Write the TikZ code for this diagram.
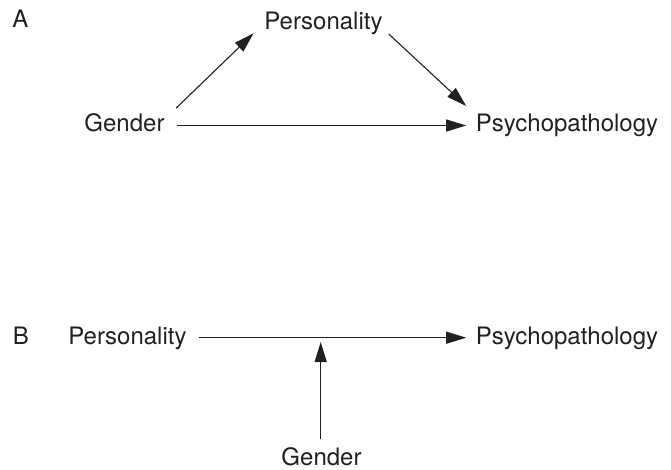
\documentclass[tikz,border=0pt]{standalone}
\usepackage{fontspec}
\setmainfont{TeX Gyre Heros}
\usetikzlibrary{arrows.meta}
\definecolor{ink}{HTML}{231F20}
\begin{document}
\begin{tikzpicture}[x=1pt,y=-1pt,
  lbl/.style={inner sep=0pt,anchor=base,text=ink,font=\fontsize{24}{28}\selectfont},
  arr/.style={draw=ink,line width=1.1pt,-{Triangle[length=20pt,width=12pt]}}]
\useasboundingbox (0,0) rectangle (671,469);

% Panel A: mediation
\node[lbl] (labA) at (20.5,27) {A};
\node[lbl] (perA) at (323.5,29.5) {Personality};
\node[lbl] (genA) at (124.5,131.5) {Gender};
\node[lbl] (psyA) at (567,131.5) {Psychopathology};

\draw[arr] ([shift={(12pt,6pt)}]genA.base east) -- ([shift={(-9.5pt,6pt)}]psyA.base west);
\draw[arr] ([shift={(11.5pt,23.5pt)}]genA.base east) -- ([shift={(-10.7pt,-3.8pt)}]perA.base west);
\draw[arr] ([shift={(6pt,-4.5pt)}]perA.base east) -- ([shift={(-9.5pt,25.5pt)}]psyA.base west);

% Panel B: moderation
\node[lbl] (labB) at (21,344) {B};
\node[lbl] (perB) at (127.5,344) {Personality};
\node[lbl] (psyB) at (567,344) {Psychopathology};
\node[lbl] (genB) at (321.5,465.5) {Gender};
\coordinate (mod) at (320.7,342);

\draw[arr] ([shift={(12pt,6.3pt)}]perB.base east) -- ([shift={(-9.5pt,6.3pt)}]psyB.base west);
\draw[arr] ([shift={(-0.8pt,26.5pt)}]genB.base) -- (mod);
\end{tikzpicture}
\end{document}
